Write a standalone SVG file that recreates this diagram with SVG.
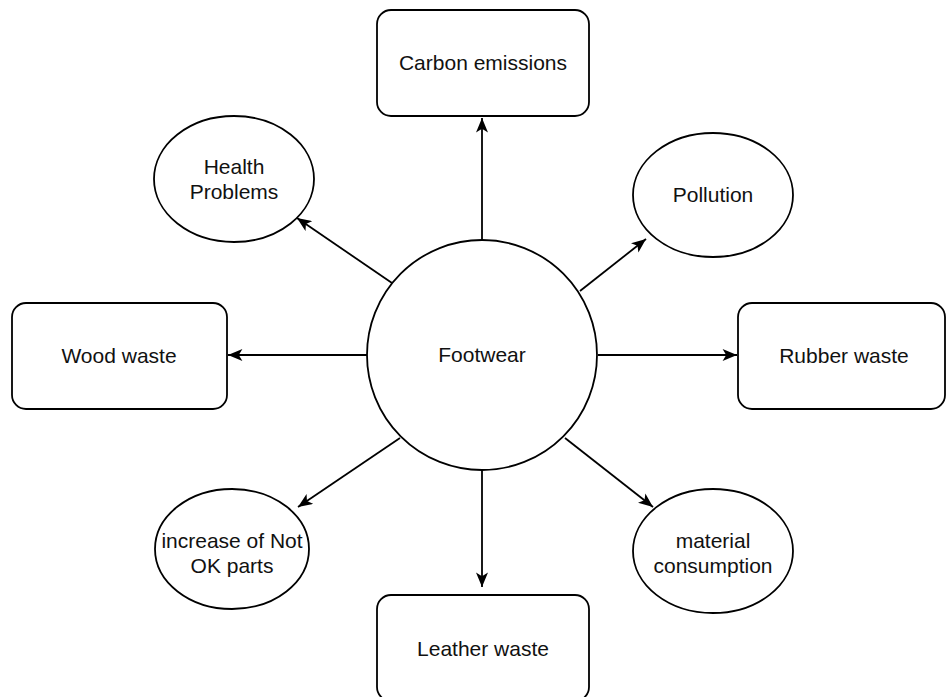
<svg xmlns="http://www.w3.org/2000/svg" width="946" height="697" viewBox="0 0 946 697">
  <style>
    .shape { fill: #ffffff; stroke: #000000; stroke-width: 1.8; }
    .lbl { font-family: "Liberation Sans", Arial, Helvetica, sans-serif; font-size: 21px; fill: #111111; text-anchor: middle; }
    .edge { fill: none; stroke: #000000; stroke-width: 1.8; marker-end: url(#arrow); }
  </style>
  <defs>
    <marker id="arrow" viewBox="0 0 12 10" refX="12" refY="5" markerWidth="15" markerHeight="12" markerUnits="userSpaceOnUse" orient="auto">
      <path d="M0,0 L12,5 L0,10 L3,5 Z" fill="#000000"/>
    </marker>
  </defs>
  <rect width="946" height="697" fill="#ffffff"/>

  <g id="connectors">
    <line class="edge" x1="482" y1="240" x2="482" y2="118"/>
    <line class="edge" x1="392" y1="283" x2="297" y2="218"/>
    <line class="edge" x1="580" y1="291" x2="646" y2="239"/>
    <line class="edge" x1="367" y1="355" x2="228" y2="355"/>
    <line class="edge" x1="598" y1="355" x2="737" y2="355"/>
    <line class="edge" x1="400" y1="438" x2="298" y2="507"/>
    <line class="edge" x1="565" y1="438" x2="653" y2="507"/>
    <line class="edge" x1="482" y1="471" x2="482" y2="587"/>
  </g>

  <g id="footwear">
    <circle class="shape" cx="482" cy="355" r="115"/>
    <text class="lbl" x="482" y="362">Footwear</text>
  </g>

  <g id="carbon-emissions">
    <rect class="shape" x="377" y="10" width="212" height="106" rx="14" ry="14"/>
    <text class="lbl" x="483" y="70">Carbon emissions</text>
  </g>

  <g id="health-problems">
    <ellipse class="shape" cx="234" cy="179" rx="80" ry="63"/>
    <text class="lbl" x="234" y="174">Health</text>
    <text class="lbl" x="234" y="199">Problems</text>
  </g>

  <g id="pollution">
    <ellipse class="shape" cx="713" cy="195" rx="80" ry="62"/>
    <text class="lbl" x="713" y="202">Pollution</text>
  </g>

  <g id="wood-waste">
    <rect class="shape" x="12" y="303" width="215" height="106" rx="14" ry="14"/>
    <text class="lbl" x="119" y="363">Wood waste</text>
  </g>

  <g id="rubber-waste">
    <rect class="shape" x="738" y="303" width="207" height="106" rx="14" ry="14"/>
    <text class="lbl" x="844" y="363">Rubber waste</text>
  </g>

  <g id="not-ok-parts">
    <ellipse class="shape" cx="232" cy="549" rx="77" ry="60"/>
    <text class="lbl" x="232" y="548">increase of Not</text>
    <text class="lbl" x="232" y="573">OK parts</text>
  </g>

  <g id="material-consumption">
    <ellipse class="shape" cx="713" cy="551" rx="80" ry="62"/>
    <text class="lbl" x="713" y="548">material</text>
    <text class="lbl" x="713" y="573">consumption</text>
  </g>

  <g id="leather-waste">
    <rect class="shape" x="377" y="595" width="212" height="106" rx="14" ry="14"/>
    <text class="lbl" x="483" y="656">Leather waste</text>
  </g>
</svg>
